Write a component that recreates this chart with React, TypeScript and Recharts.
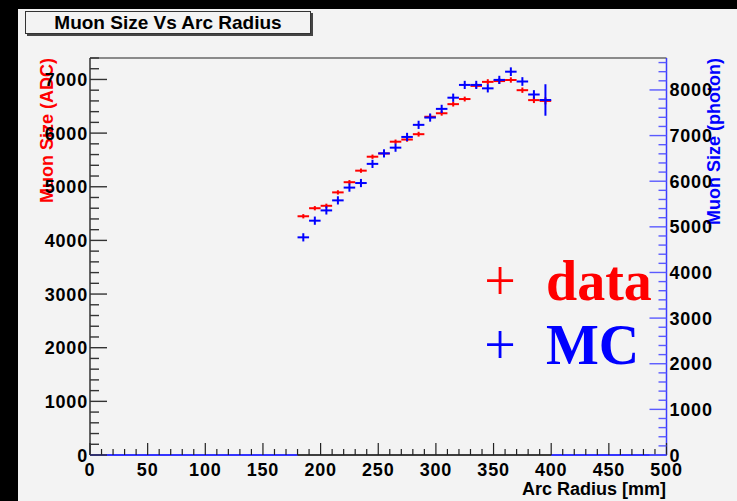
import { ErrorBar, ReferenceLine, Scatter, ScatterChart, XAxis, YAxis } from "recharts";

// bin centres [mm] and per-bin values
const RADIUS = [185, 195, 205, 215, 225, 235, 245, 255, 265, 275, 285, 295, 305, 315, 325, 335, 345, 355, 365, 375, 385, 395];
const DATA_ADC = [4450, 4600, 4645, 4895, 5085, 5300, 5560, 5620, 5840, 5880, 5980, 6305, 6370, 6540, 6635, 6880, 6955, 6970, 6990, 6800, 6615, 6600];
const DATA_ERR = [40, 40, 40, 40, 40, 40, 40, 40, 40, 40, 45, 45, 45, 45, 45, 45, 50, 50, 50, 50, 55, 65];
const MC_PHOTON = [4770, 5135, 5360, 5580, 5860, 5960, 6380, 6610, 6735, 6970, 7235, 7395, 7585, 7830, 8110, 8110, 8035, 8220, 8400, 8185, 7900, 7780];
const MC_ERR = [90, 90, 90, 90, 90, 90, 90, 90, 90, 90, 90, 90, 90, 90, 90, 90, 90, 90, 95, 95, 95, 345];
const BIN_HALF = 5;
// empty MC bins drawn along zero
const EMPTY_BINS = [
  [0, 180],
  [400, 500],
];

const X_MAX = 500;
const ADC_MAX = 7400;
const PHOTON_MAX = 8700;
const X_MAJOR = [0, 50, 100, 150, 200, 250, 300, 350, 400, 450, 500];
const ADC_MAJOR = [0, 1000, 2000, 3000, 4000, 5000, 6000, 7000];
const PHOTON_MAJOR = [0, 1000, 2000, 3000, 4000, 5000, 6000, 7000, 8000];

const LEGEND = [
  { label: "data", color: "#ff0000" },
  { label: "MC", color: "#0000ff" },
];

const RED = "#ff0000";
const BLUE = "#0000ff";
const BG = "#f3f3f3";
const FONT = "'Liberation Sans', Arial, Helvetica, sans-serif";
const SERIF = "'Liberation Serif', 'Times New Roman', serif";

const steps = (max: number, step: number) =>
  Array.from({ length: Math.floor(max / step) + 1 }, (_, i) => i * step);

const dataPoints = RADIUS.map((r, i) => ({ r, v: DATA_ADC[i], ex: BIN_HALF, ey: DATA_ERR[i] }));
const mcPoints = RADIUS.map((r, i) => ({ r, v: MC_PHOTON[i], ex: BIN_HALF, ey: MC_ERR[i] }));
const emptyRuns = EMPTY_BINS.map(([a, b]) => [
  { r: a, v: 0 },
  { r: b, v: 0 },
]);

const label = {
  fontFamily: FONT,
  fontSize: 18,
  fontWeight: 700,
  fill: "#000",
  letterSpacing: 0.8,
} as const;

// ROOT style ticks: drawn inward from the axis line, labels only on majors
function makeTick(side: "left" | "right" | "bottom", majors: number[], long: number, short: number, color: string) {
  return (props: any) => {
    const { x, y, payload } = props;
    const major = majors.includes(payload.value);
    const len = major ? long : short;
    if (side === "bottom") {
      return (
        <g>
          <line x1={x} x2={x} y1={y} y2={y - len} stroke={color} strokeWidth={1.2} />
          {major && (
            <text x={x} y={y + 20.5} textAnchor="middle" {...label}>
              {payload.value}
            </text>
          )}
        </g>
      );
    }
    const dir = side === "left" ? 1 : -1;
    return (
      <g>
        <line x1={x} x2={x + dir * len} y1={y} y2={y} stroke={color} strokeWidth={1.4} />
        {major && (
          <text
            x={side === "left" ? x - 2 : x + 3}
            y={y + 6.5}
            textAnchor={side === "left" ? "end" : "start"}
            {...label}
          >
            {payload.value}
          </text>
        )}
      </g>
    );
  };
}

const noMarker = () => <g />;

export default function App() {
  return (
    <div style={{ position: "absolute", left: 0, top: 0, width: 737, height: 501, background: "#000" }}>
      <div style={{ position: "absolute", left: 18, top: 9, width: 719, height: 492, background: BG }} />
      {/* titles and legend sit under the axes */}
      <svg width={737} height={501} style={{ position: "absolute", left: 0, top: 0 }}>
        <text
          transform="translate(53,58) rotate(-90)"
          textAnchor="end"
          fontFamily={FONT}
          fontSize={18}
          fontWeight={700}
          fill={RED}
        >
          Muon Size (ADC)
        </text>
        <text
          transform="translate(720,58) rotate(-90)"
          textAnchor="end"
          fontFamily={FONT}
          fontSize={18}
          fontWeight={700}
          fill={BLUE}
        >
          Muon Size (photon)
        </text>
        <text x={666} y={495} textAnchor="end" fontFamily={FONT} fontSize={18} fontWeight={700}>
          Arc Radius [mm]
        </text>
        {LEGEND.map((item, i) => (
          <g key={item.label} fill={item.color} fontFamily={SERIF} fontSize={56} fontWeight={700}>
            <text x={500} y={300 + i * 64} textAnchor="middle" fontWeight={400}>
              +
            </text>
            <text x={546} y={300 + i * 64}>
              {item.label}
            </text>
          </g>
        ))}
      </svg>
      <div style={{ position: "absolute", left: 0, top: 0 }}>
        <ScatterChart width={737} height={501} margin={{ top: 58, right: 10.5, bottom: 6, left: 18 }}>
          <XAxis
            type="number"
            dataKey="r"
            domain={[0, X_MAX]}
            ticks={steps(X_MAX, 10)}
            interval={0}
            tickSize={0}
            tickMargin={0}
            height={40}
            axisLine={{ stroke: "#000", strokeWidth: 1.5 }}
            tickLine={false}
            tick={makeTick("bottom", X_MAJOR, 12, 6, "#222")}
          />
          <YAxis
            yAxisId="adc"
            type="number"
            dataKey="v"
            domain={[0, ADC_MAX]}
            ticks={steps(ADC_MAX, 200)}
            interval={0}
            tickSize={0}
            tickMargin={0}
            width={72}
            axisLine={{ stroke: "#333", strokeWidth: 1.5 }}
            tickLine={false}
            tick={makeTick("left", ADC_MAJOR, 17, 9, "#333")}
          />
          <YAxis
            yAxisId="photon"
            orientation="right"
            type="number"
            dataKey="v"
            domain={[0, PHOTON_MAX]}
            ticks={steps(PHOTON_MAX, 200)}
            interval={0}
            tickSize={0}
            tickMargin={0}
            width={60}
            axisLine={{ stroke: "#3c3cff", strokeWidth: 1.5 }}
            tickLine={false}
            tick={makeTick("right", PHOTON_MAJOR, 17, 8, "#5a5aff")}
          />
          <ReferenceLine yAxisId="adc" y={ADC_MAX} stroke="#8a8a8a" strokeWidth={2} ifOverflow="visible" />
          <Scatter yAxisId="adc" data={dataPoints} shape={noMarker} isAnimationActive={false}>
            <ErrorBar dataKey="ex" direction="x" width={0} stroke={RED} strokeWidth={2} isAnimationActive={false} />
            <ErrorBar dataKey="ey" direction="y" width={0} stroke={RED} strokeWidth={2} isAnimationActive={false} />
          </Scatter>
          <Scatter yAxisId="photon" data={mcPoints} shape={noMarker} isAnimationActive={false}>
            <ErrorBar dataKey="ex" direction="x" width={0} stroke={BLUE} strokeWidth={2} isAnimationActive={false} />
            <ErrorBar dataKey="ey" direction="y" width={0} stroke={BLUE} strokeWidth={2} isAnimationActive={false} />
          </Scatter>
          {emptyRuns.map((run, i) => (
            <Scatter
              key={i}
              yAxisId="photon"
              data={run}
              shape={noMarker}
              line={{ stroke: "#3434ff", strokeWidth: 2 }}
              isAnimationActive={false}
            />
          ))}
        </ScatterChart>
      </div>
      <svg width={737} height={501} style={{ position: "absolute", left: 0, top: 0, pointerEvents: "none" }}>
        <rect x={27} y={13} width={286} height={23} fill="#444" />
        <rect x={25.5} y={11.5} width={285} height={22} fill={BG} stroke="#333" strokeWidth={1} />
        <text x={168} y={28.5} textAnchor="middle" fontFamily={FONT} fontSize={19} fontWeight={700}>
          Muon Size Vs Arc Radius
        </text>
      </svg>
    </div>
  );
}
